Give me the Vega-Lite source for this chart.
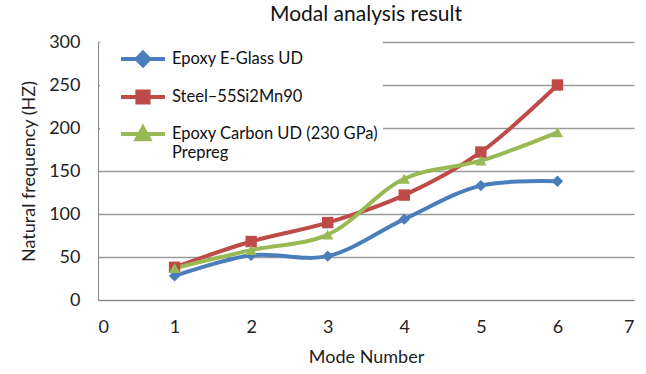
{
  "$schema": "https://vega.github.io/schema/vega-lite/v6.json",
  "autosize": "none",
  "width": 536,
  "height": 258,
  "padding": {"left": 98, "top": 42, "right": 12, "bottom": 74},
  "background": "white",
  "config": {
    "font": "Lato",
    "view": {"stroke": null},
    "axis": {"labelFont": "Lato", "titleFont": "Lato", "labelColor": "#222", "titleColor": "#222", "domainColor": "#888", "gridColor": "#9a9a9a", "tickColor": "#888"}
  },
  "title": {"text": "Modal analysis result", "fontSize": 21, "font": "Lato", "fontWeight": "normal", "color": "#111", "offset": 8},
  "data": {"values": [
    {"mode": 1, "freq": 28, "series": "Epoxy E-Glass UD"},
    {"mode": 2, "freq": 52, "series": "Epoxy E-Glass UD"},
    {"mode": 3, "freq": 51, "series": "Epoxy E-Glass UD"},
    {"mode": 4, "freq": 94, "series": "Epoxy E-Glass UD"},
    {"mode": 5, "freq": 133, "series": "Epoxy E-Glass UD"},
    {"mode": 6, "freq": 138, "series": "Epoxy E-Glass UD"},
    {"mode": 1, "freq": 38, "series": "Steel–55Si2Mn90"},
    {"mode": 2, "freq": 68, "series": "Steel–55Si2Mn90"},
    {"mode": 3, "freq": 90, "series": "Steel–55Si2Mn90"},
    {"mode": 4, "freq": 122, "series": "Steel–55Si2Mn90"},
    {"mode": 5, "freq": 172, "series": "Steel–55Si2Mn90"},
    {"mode": 6, "freq": 250, "series": "Steel–55Si2Mn90"},
    {"mode": 1, "freq": 37, "series": "Epoxy Carbon UD (230 GPa) Prepreg"},
    {"mode": 2, "freq": 58, "series": "Epoxy Carbon UD (230 GPa) Prepreg"},
    {"mode": 3, "freq": 76, "series": "Epoxy Carbon UD (230 GPa) Prepreg"},
    {"mode": 4, "freq": 141, "series": "Epoxy Carbon UD (230 GPa) Prepreg"},
    {"mode": 5, "freq": 162, "series": "Epoxy Carbon UD (230 GPa) Prepreg"},
    {"mode": 6, "freq": 195, "series": "Epoxy Carbon UD (230 GPa) Prepreg"}
  ]},
  "encoding": {
    "x": {"field": "mode", "type": "quantitative", "scale": {"domain": [0, 7], "nice": false},
      "axis": {"title": "Mode Number", "values": [0,1,2,3,4,5,6,7], "grid": false, "labelFontSize": 18, "titleFontSize": 18, "titleFontWeight": "normal", "tickSize": 0, "labelPadding": 18, "titlePadding": 12}},
    "y": {"field": "freq", "type": "quantitative", "scale": {"domain": [0, 300], "nice": false},
      "axis": {"title": "Natural frequency (HZ)", "values": [0,50,100,150,200,250,300], "labelFontSize": 18, "titleFontSize": 18, "titleFontWeight": "normal", "tickSize": 0, "labelPadding": 18, "titlePadding": 10, "gridWidth": 1.3}},
    "color": {"field": "series", "type": "nominal",
      "sort": ["Epoxy E-Glass UD", "Steel–55Si2Mn90", "Epoxy Carbon UD (230 GPa) Prepreg"],
      "scale": {"domain": ["Epoxy E-Glass UD", "Steel–55Si2Mn90", "Epoxy Carbon UD (230 GPa) Prepreg"], "range": ["#4A7EBB", "#BE4B48", "#98B954"]},
      "legend": {"title": null, "orient": "none", "legendX": 2, "legendY": -4, "labelFontSize": 16.5, "labelFont": "Lato", "labelColor": "#111",
        "labelExpr": "datum.label == 'Epoxy Carbon UD (230 GPa) Prepreg' ? ['Epoxy Carbon UD (230 GPa)', 'Prepreg'] : datum.label",
        "labelLimit": 300, "rowPadding": 7, "padding": 5, "strokeColor": null, "fillColor": "white", "symbolSize": 784, "symbolStrokeWidth": 4, "labelOffset": 35,
        "encode": {"symbols": {"update": {
          "shape": {"signal": "datum.value == 'Epoxy E-Glass UD' ? 'M0,0L3.14,0M1.57,-0.45L2.02,0L1.57,0.45L1.12,0Z' : datum.value == 'Steel–55Si2Mn90' ? 'M0,0L3.14,0M1.17,-0.4L1.97,-0.4L1.97,0.4L1.17,0.4Z' : 'M0,0L3.14,0M1.57,-0.45L2.02,0.38L1.12,0.38Z'"},
          "stroke": {"signal": "scale('color', datum.value)"},
          "fill": {"signal": "scale('color', datum.value)"},
          "strokeWidth": {"value": 4}
        }}}}}
  },
  "layer": [
    {"mark": {"type": "line", "interpolate": "catmull-rom", "strokeWidth": 4}},
    {"mark": {"type": "point", "filled": true, "size": 130, "opacity": 1},
      "encoding": {"shape": {"field": "series", "type": "nominal",
        "scale": {"range": ["triangle-up", "diamond", "square"]}, "legend": null}}}
  ]
}
